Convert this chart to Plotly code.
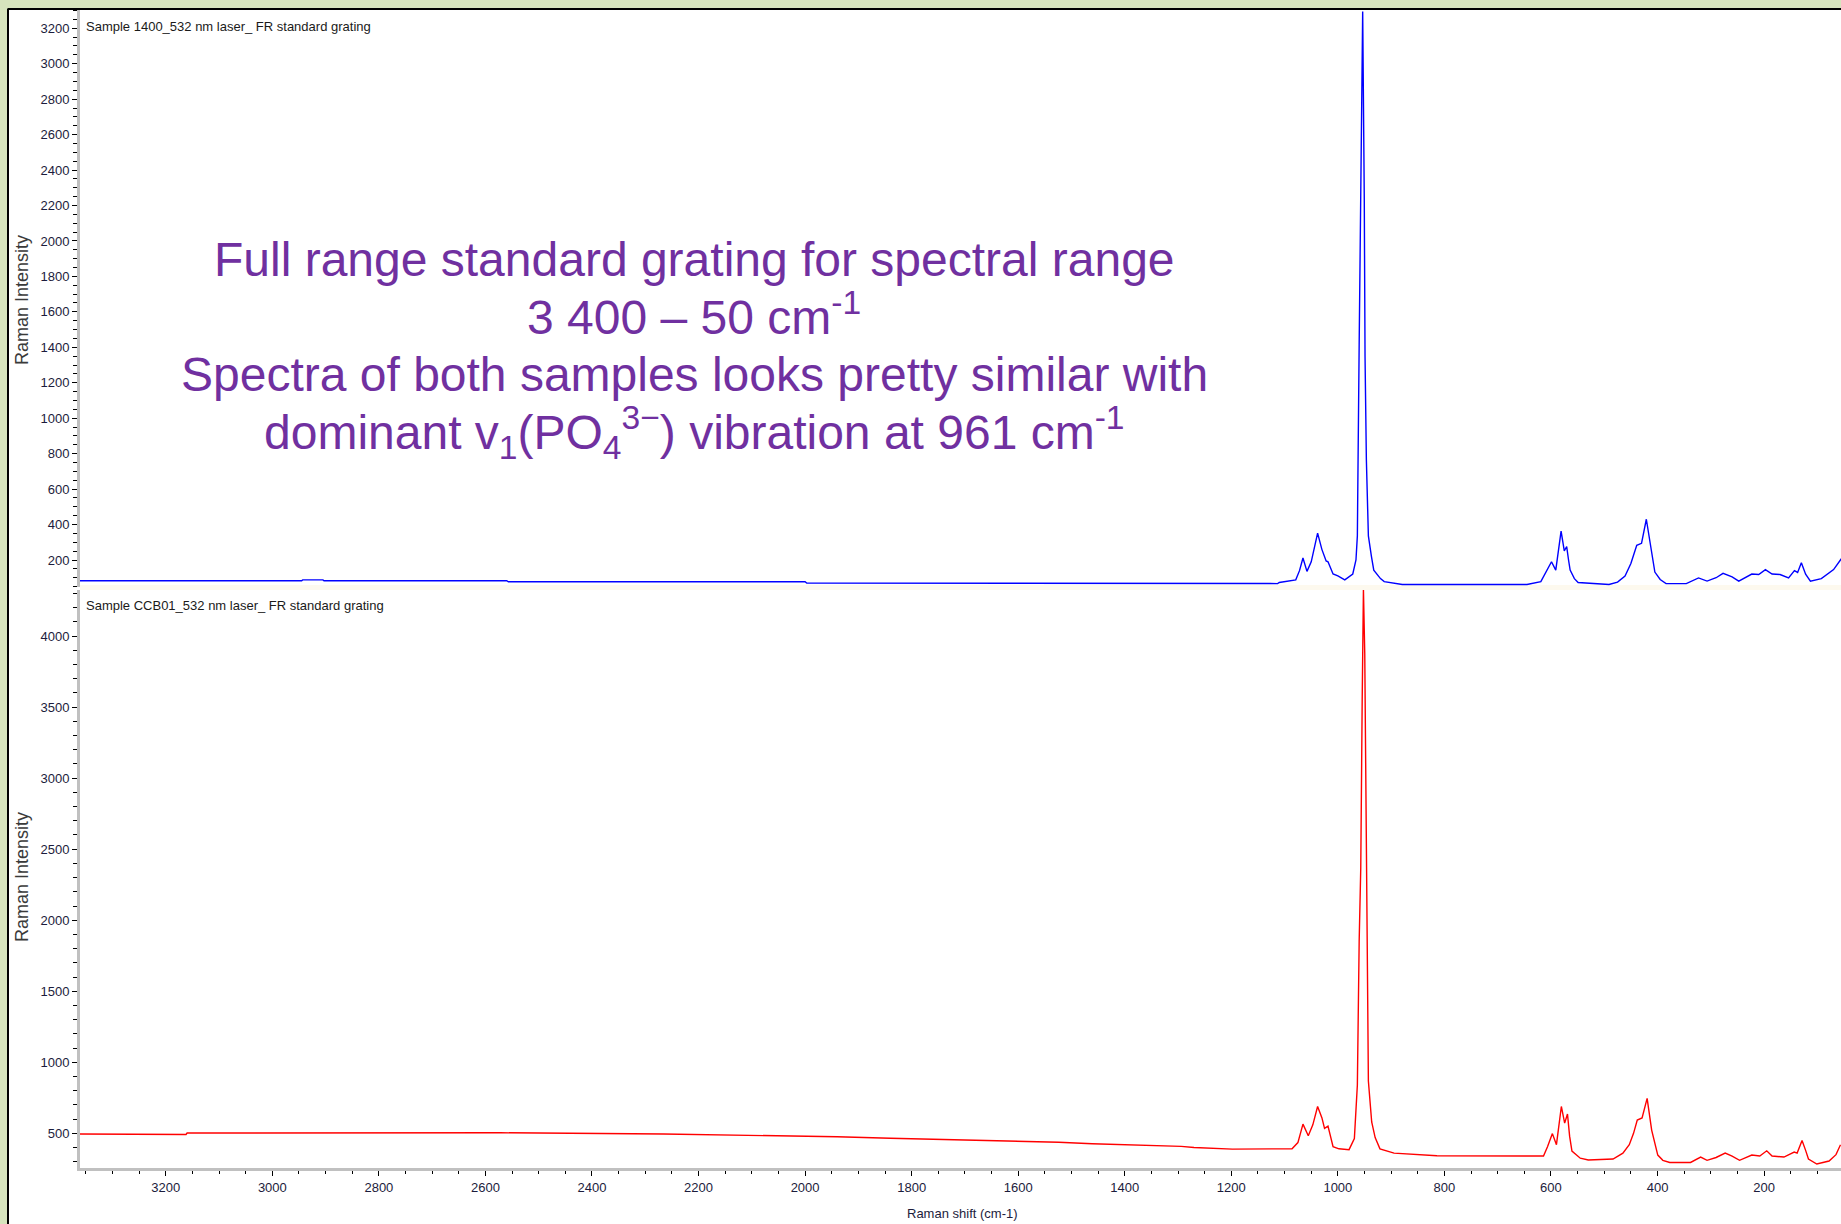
import plotly.graph_objects as go

# ---------------- data ----------------
blue_shift = [3361, 3000, 2945, 2943, 2905, 2903, 2560, 2557, 2000, 1997, 1300, 1259, 1113, 1110, 1079,
              1072, 1065.5, 1058, 1050, 1038, 1030, 1022, 1018.5, 1009, 1000, 987, 972, 966, 963.4, 960,
              956, 953.4, 950.4, 949, 946.5, 942.7, 937, 932.6, 920, 913, 879, 645, 619, 606.5, 599,
              591, 586, 581, 575, 570.5, 567, 564, 556, 549, 491, 475, 461, 450, 439, 430, 421, 412,
              405, 395, 384, 346, 323, 307, 290, 277, 260, 247.5, 223, 210, 197.5, 185, 170, 154, 143,
              137, 130, 122, 113, 92.5, 69.5, 55]
blue_int = [83, 83, 83, 88, 88, 83, 83, 77, 77, 70, 70, 67, 67, 73, 88,
            140, 211, 136, 190, 352, 260, 195, 190, 121, 110, 88, 121, 200, 336, 1418,
            2412, 3295, 2237, 1351, 768, 336, 220, 143, 95, 78, 62, 62, 78, 143, 190,
            143, 250, 363, 251, 276, 200, 143, 95, 73, 62, 75, 110, 180, 283, 294, 430, 251,
            132, 90, 67, 67, 99, 81, 100, 125, 105, 81, 121, 118, 146, 121, 118, 99, 140,
            130, 185, 120, 81, 95, 146, 207]

red_shift = [3361, 3215, 3213, 3162, 3160, 2998, 2996, 2600, 2572, 2266, 2075, 1940, 1840, 1725, 1581,
             1524, 1461, 1294, 1270, 1198, 1086, 1075, 1065.5, 1055.5, 1047, 1038, 1030, 1025, 1018.5,
             1009, 998, 979, 969, 963.4, 960, 957, 954.3, 952, 949.5, 947, 945.7, 942.7, 936.5, 930,
             921, 894.5, 814, 614, 606.5, 597.3, 589.7, 585, 580.5, 574.3, 569, 565, 560.6, 545, 530,
             483.5, 465, 453, 445, 438, 429, 419.5, 411, 399.5, 390, 377, 338, 319, 307, 290, 273,
             260, 246, 223, 208, 195, 185, 162.7, 143.4, 137.9, 128.7, 122, 116.7, 101, 78, 65, 56.5]
red_int = [495, 495, 492, 492, 502, 502, 507, 507, 504, 495, 486, 476, 465, 455, 446,
           437, 427, 408, 400, 389, 391, 435, 565, 483, 560, 689, 610, 535, 551,
           406, 391, 385, 463, 840, 1850, 2371, 3556, 4330, 3873, 2719, 1650, 868, 580, 470,
           391, 361, 342, 340, 406, 498, 420, 550, 689, 572, 636, 480, 375, 325, 312,
           319, 360, 420, 500, 593, 608, 746, 523, 347, 310, 295, 295, 333, 310, 330, 361,
           340, 310, 347, 340, 377, 340, 333, 368, 361, 449, 380, 319, 284, 305, 350, 420]

top_label = "Sample 1400_532 nm laser_ FR standard grating"
bottom_label = "Sample CCB01_532 nm laser_ FR standard grating"
y_title = "Raman Intensity"
x_title = "Raman shift (cm-1)"
note_lines = [
    "Full range standard grating for spectral range",
    "3 400 \u2013 50 cm<sup>-1</sup>",
    "Spectra of both samples looks pretty similar with",
    "dominant v<sub>1</sub>(PO<sub>4</sub><sup>3\u2212</sup>) vibration at 961 cm<sup>-1</sup>",
]

# ---------------- figure ----------------
W, H = 1841, 1224
ML, MR, MT, MB = 80, 0, 10, 56
PH = H - MT - MB
PW = W - ML - MR


def py2paper(py):
    return (H - MB - py) / PH


def px2paper(px):
    return (px - ML) / PW


NARROW = "Liberation Sans, Arial, sans-serif"
SANS = "Liberation Sans, Arial, sans-serif"
TICKCOL = "#1c1c3c"
SMALL = 13

fig = go.Figure()
fig.add_trace(go.Scatter(x=blue_shift, y=blue_int, mode="lines", xaxis="x2", yaxis="y",
                         line=dict(color="#0000ff", width=1.4), showlegend=False))
fig.add_trace(go.Scatter(x=red_shift, y=red_int, mode="lines", xaxis="x", yaxis="y2",
                         line=dict(color="#ff0000", width=1.4), showlegend=False))

top_dom = [py2paper(587), 1.0]
bot_dom = [0.0, py2paper(590)]

axis_common = dict(showline=True, linecolor="#c0c0c0", linewidth=3, ticks="outside",
                   tickcolor="black", ticklen=5, tickwidth=1, showgrid=False, zeroline=False,
                   tickfont=dict(family=NARROW, size=SMALL, color=TICKCOL))

fig.update_layout(
    width=W, height=H,
    margin=dict(l=ML, r=MR, t=MT, b=MB, pad=0),
    paper_bgcolor="#d7e4bd",
    plot_bgcolor="white",
    xaxis=dict(domain=[0, 1], anchor="y2", range=[3361, 55.6], tick0=0, dtick=200,
               minor=dict(dtick=50, tick0=0, ticks="outside", ticklen=3, tickcolor="black", showgrid=False),
               **axis_common),
    xaxis2=dict(domain=[0, 1], anchor="y", matches="x", showticklabels=False, showline=False,
                ticks="", showgrid=False, zeroline=False),
    yaxis=dict(domain=top_dom, anchor="x2", range=[47.7, 3303], tick0=0, dtick=200,
               minor=dict(dtick=50, tick0=0, ticks="outside", ticklen=4, tickcolor="black", showgrid=False),
               **axis_common),
    yaxis2=dict(domain=bot_dom, anchor="x", range=[256, 4324], tick0=0, dtick=500,
                minor=dict(dtick=100, tick0=0, ticks="outside", ticklen=4, tickcolor="black", showgrid=False),
                **axis_common),
)

# frame: white sheet with black top/left edge on a green background
shapes = [
    dict(type="rect", xref="paper", yref="paper", x0=px2paper(9), x1=1.0, y0=py2paper(H), y1=py2paper(10),
         fillcolor="white", line=dict(width=0), layer="below"),
    dict(type="line", xref="paper", yref="paper", x0=px2paper(8), x1=px2paper(8), y0=py2paper(H), y1=py2paper(8.5),
         line=dict(color="black", width=2), layer="below"),
    dict(type="line", xref="paper", yref="paper", x0=px2paper(8), x1=1.0, y0=py2paper(9), y1=py2paper(9),
         line=dict(color="black", width=2), layer="below"),
    dict(type="rect", xref="paper", yref="paper", x0=0, x1=1.0, y0=py2paper(590), y1=py2paper(585),
         fillcolor="#fdf9ee", line=dict(width=0), layer="below"),
]
fig.update_layout(shapes=shapes)

ann = []
ann.append(dict(text=top_label, xref="paper", yref="paper", x=0, y=1, xanchor="left", yanchor="middle",
                xshift=4, yshift=-(26 - MT), showarrow=False,
                font=dict(family=NARROW, size=SMALL, color="#1a1a1a")))
ann.append(dict(text=bottom_label, xref="paper", yref="paper", x=0, y=bot_dom[1], xanchor="left",
                yanchor="middle", xshift=4, yshift=-16, showarrow=False,
                font=dict(family=NARROW, size=SMALL, color="#1a1a1a")))
for yc in (300, 877):
    ann.append(dict(text=y_title, xref="paper", yref="paper", x=0, y=py2paper(yc), xanchor="center",
                    yanchor="middle", xshift=22 - ML, textangle=-90, showarrow=False,
                    font=dict(family=SANS, size=18, color="#3a3a3a")))
ann.append(dict(text=x_title, xref="paper", yref="paper", x=px2paper(963), y=0, xanchor="center",
                yanchor="middle", yshift=-45, showarrow=False,
                font=dict(family=NARROW, size=SMALL, color=TICKCOL)))
for line, yc in zip(note_lines, (259, 314, 375, 432)):
    ann.append(dict(text=line, xref="paper", yref="paper", x=px2paper(694), y=py2paper(yc),
                    xanchor="center", yanchor="middle", showarrow=False,
                    font=dict(family=SANS, size=48, color="#7030a0")))
fig.update_layout(annotations=ann)

fig.write_html("out.html")
